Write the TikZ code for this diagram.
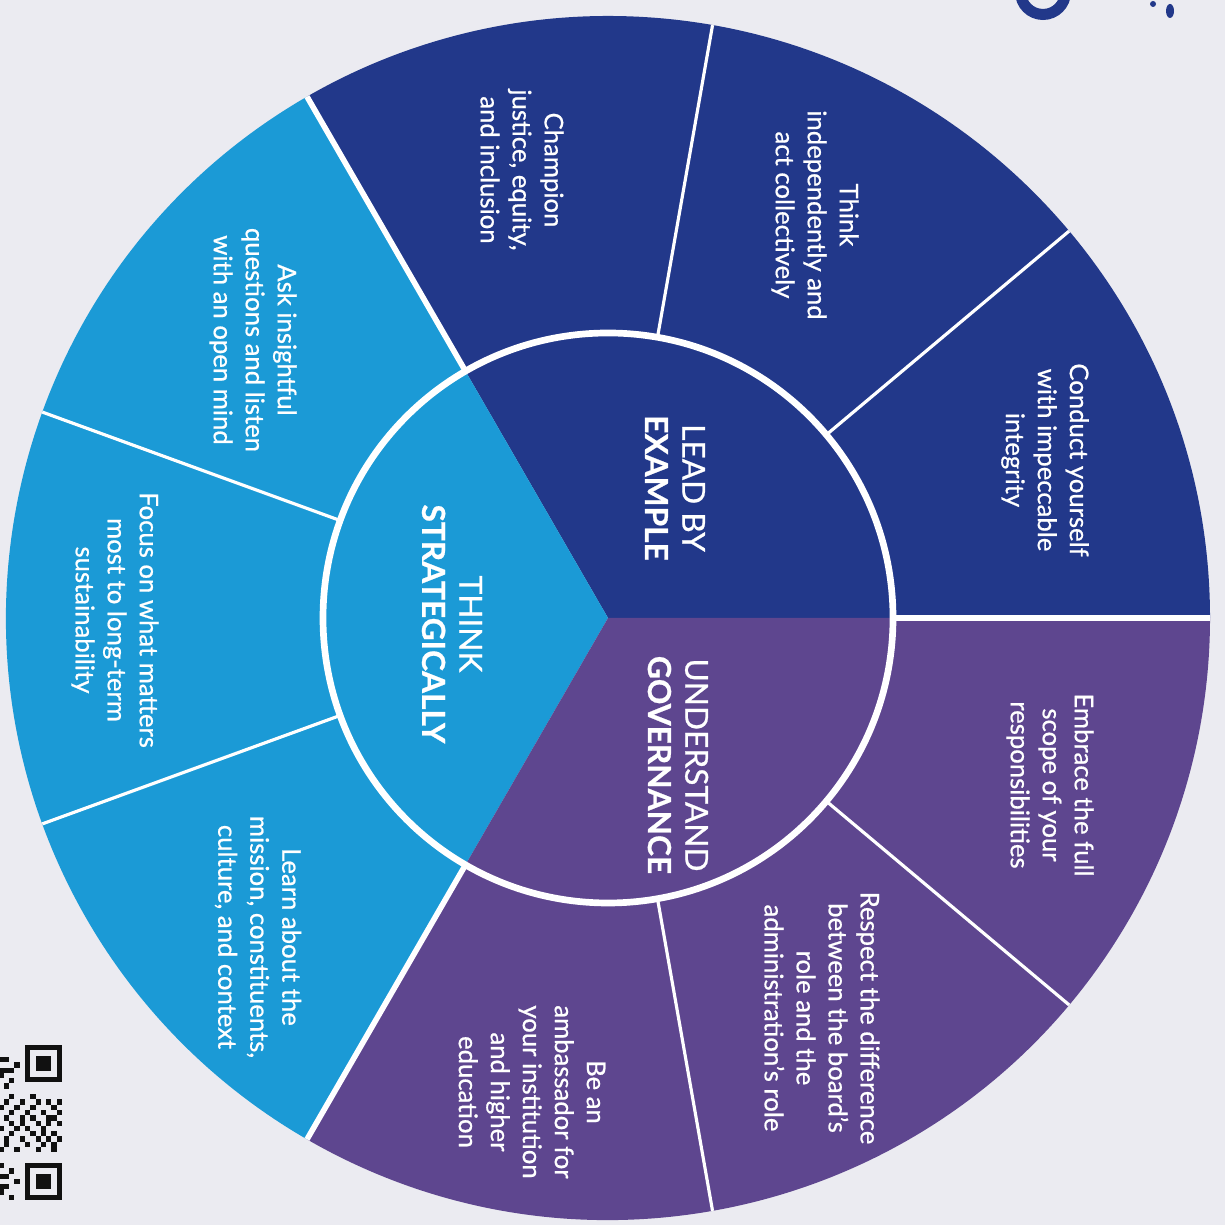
\documentclass[tikz,border=0pt]{standalone}
\usepackage{fontspec}
\setmainfont{Lato}
\newfontfamily\wheelfont{Lato}[FakeBold=0.7]
\definecolor{bgpaper}{HTML}{EBEBF1}
\definecolor{navyc}{HTML}{22388A}
\definecolor{bluec}{HTML}{1B9AD6}
\definecolor{purplec}{HTML}{5E468F}
\definecolor{inkc}{HTML}{111111}
\tikzset{
  outertext/.style={text=white, align=center, rotate=-90, inner sep=0pt,
    font=\wheelfont\fontsize{7.3}{9.1}\selectfont},
  innertext/.style={text=white, align=center, rotate=-90, inner sep=0pt,
    font=\wheelfont\fontsize{9}{10.6}\selectfont},
  majorline/.style={white, line width=1.6pt},
  minorline/.style={white, line width=0.9pt},
  ringline/.style={white, line width=1.9pt},
  qrmod/.style={fill=inkc},
}
\begin{document}
\begin{tikzpicture}[x=0.01cm,y=0.01cm]
\clip (0,0) rectangle (1225,1225);
\fill[bgpaper] (0,0) rectangle (1225,1225);
\coordinate (C) at (608,607);
% sectors
\fill[navyc] (C) -- ++(0:602) arc[start angle=0,end angle=120,radius=602] -- cycle;
\fill[bluec] (C) -- ++(120:602) arc[start angle=120,end angle=240,radius=602] -- cycle;
\fill[purplec] (C) -- ++(240:602) arc[start angle=240,end angle=360,radius=602] -- cycle;
% separators
\foreach \a in {0,120,240} \draw[majorline] (C) ++(\a:285) -- ++(\a:317);
\foreach \a in {40,80,160,200,280,320} \draw[minorline] (C) ++(\a:285) -- ++(\a:317);
\draw[ringline] (C) circle[radius=285];
% inner titles
\node[innertext] (lead) at (675,737) {LEAD BY\\\textbf{EXAMPLE}};
\node[innertext] (strat) at (452,601) {THINK\\\textbf{STRATEGICALLY}};
\node[innertext] (gov) at (678,460) {UNDERSTAND\\\textbf{GOVERNANCE}};
% outer texts
\node[outertext] (conduct) at (1045,765) {Conduct yourself\\with impeccable\\integrity};
\node[outertext] (thinkind) at (815,1010) {Think\\independently and\\act collectively};
\node[outertext] (champion) at (522,1055) {Champion\\justice, equity,\\and inclusion};
\node[outertext] (ask) at (253,885) {Ask insightful\\questions and listen\\with an open mind};
\node[outertext] (focus) at (115,605) {Focus on what matters\\most to long-term\\sustainability};
\node[outertext] (learn) at (258,288) {Learn about the\\mission, constituents,\\culture, and context};
\node[outertext] (ambass) at (532,133) {Be an\\ambassador for\\your institution\\and higher\\education};
\node[outertext] (respect) at (822,207) {Respect the difference\\between the board’s\\role and the\\administration’s role};
\node[outertext] (embrace) at (1050,440) {Embrace the full\\scope of your\\responsibilities};
% partial title glyphs at top right
\draw[navyc, line width=0.11cm] (1043,1233) circle[radius=22.5];
\fill[navyc] (1170,1214) ellipse[x radius=4, y radius=7];
\fill[navyc] (1153,1221) circle[radius=3];
% QR code fragment
\foreach \y in {143,25} {
  \fill[inkc] (25,\y) rectangle (62,\y+37);
  \fill[bgpaper] (30.3,\y+5.3) rectangle (56.7,\y+31.7);
  \fill[inkc] (35.6,\y+10.6) rectangle (51.4,\y+26.4);
}
\foreach \c/\r in {0/9,0/11,0/13,0/16,1/10,1/12,1/15,1/17,1/18,2/9,2/12,2/13,2/16,3/11,3/14,3/15,3/17,
  5/8,5/10,5/12,5/15,4/9,4/13,4/16,4/18,6/11,6/14,6/17,7/9,7/12,7/13,7/16,8/10,8/14,8/18,
  9/8,9/11,9/13,9/15,10/9,10/12,10/16,10/17,11/10,11/14,11/18,
  8/2,9/3,10/1,11/4,9/5,10/6,8/24,9/22,10/25,11/21,11/26,9/27,
  11/1,11/3,11/23,11/25,10/3,10/23} {
  \fill[qrmod] (56.7-5.3*\c,168-5.3*\r) rectangle ++(5.3,5.3);
}
\end{tikzpicture}
\end{document}
